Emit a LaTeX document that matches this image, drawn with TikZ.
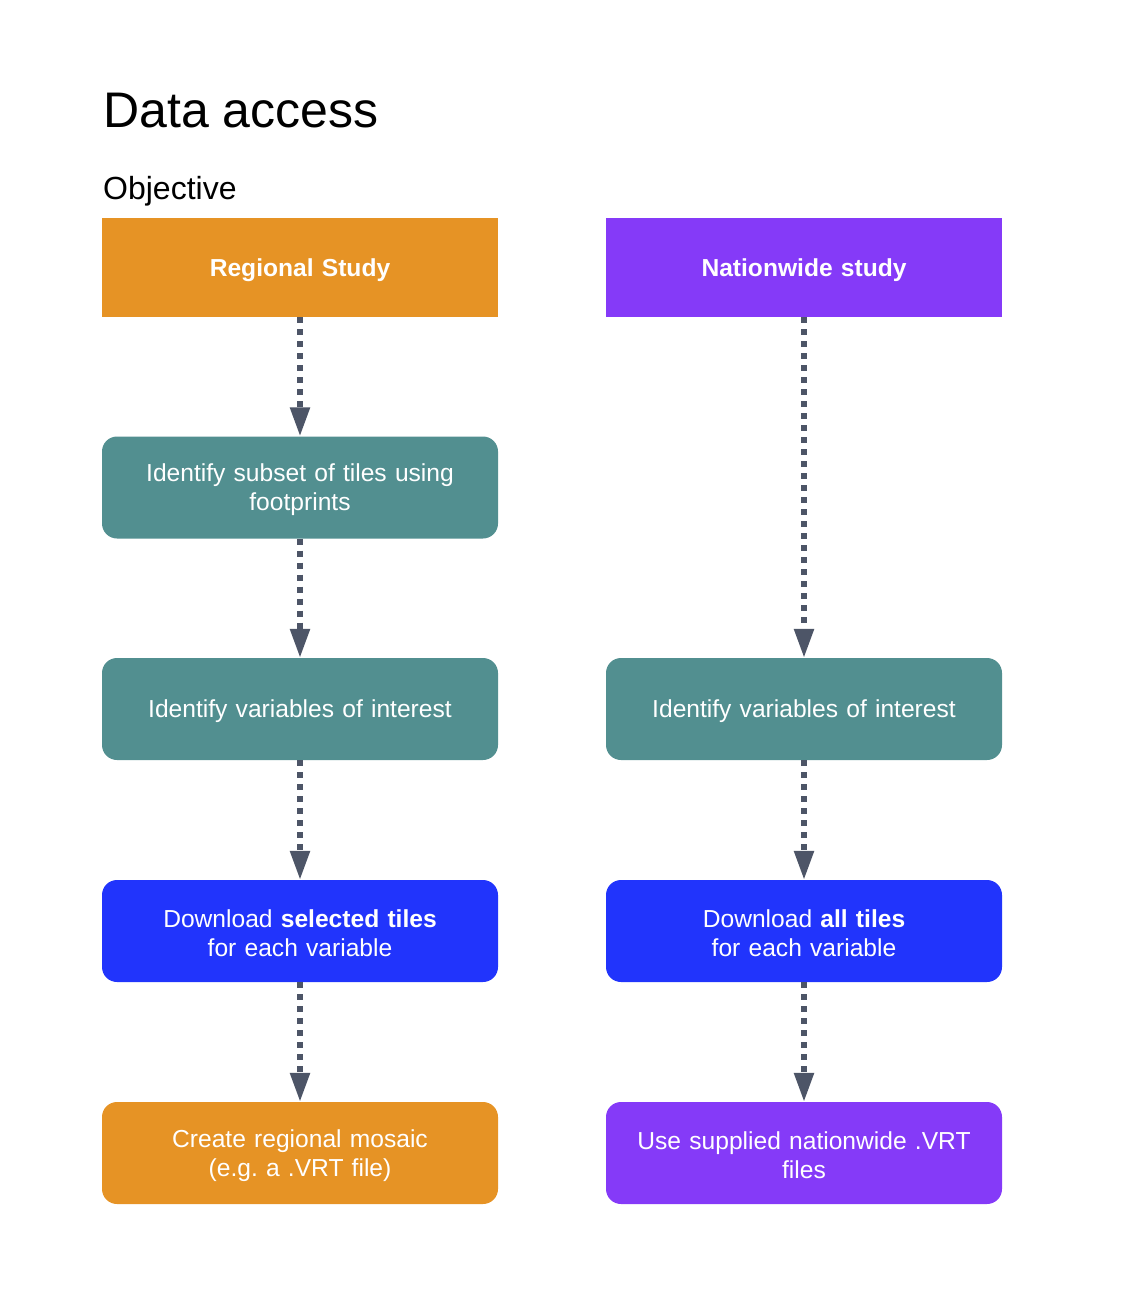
\documentclass[tikz,border=0pt]{standalone}
\usepackage{fontspec}
\setmainfont{Liberation Sans}
\usetikzlibrary{arrows.meta}
\definecolor{corange}{HTML}{E69325}
\definecolor{cpurple}{HTML}{853AF8}
\definecolor{cteal}{HTML}{528F90}
\definecolor{cblue}{HTML}{2134FC}
\definecolor{carrow}{HTML}{4D5567}
\tikzset{
  box/.style={minimum width=396pt, minimum height=102pt, inner sep=0pt},
  rbox/.style={box, rounded corners=15pt},
  lbl/.style={text=white, align=center, inner sep=0pt, text width=390pt,
    font=\fontsize{24.6}{29}\selectfont, yshift=-2.5pt},
  flow/.style={draw=carrow, line width=5.5pt, dash pattern=on 6pt off 6pt,
    -{Triangle[width=19pt,length=29pt]}}
}
\begin{document}
\frenchspacing
\begin{tikzpicture}[x=1pt,y=-1pt]
\useasboundingbox (0,0) rectangle (1125,1300);
\node[anchor=base west, inner sep=0pt, font=\fontsize{50}{60}\selectfont] (title) at (103,128) {Data access};
\node[anchor=base west, inner sep=0pt, font=\fontsize{32}{38}\selectfont] (obj) at (103,200) {Objective};
\node[box, fill=corange, minimum height=99pt] (reg) at (300,267.5) {};
\node[box, fill=cpurple, minimum height=99pt] (nat) at (804,267.5) {};
\node[rbox, fill=cteal] (sub) at (300,487.5) {};
\node[rbox, fill=cteal] (varl) at (300,709) {};
\node[rbox, fill=cteal] (varr) at (804,709) {};
\node[rbox, fill=cblue] (dll) at (300,931) {};
\node[rbox, fill=cblue] (dlr) at (804,931) {};
\node[rbox, fill=corange] (mos) at (300,1153) {};
\node[rbox, fill=cpurple] (vrt) at (804,1153) {};
\node[lbl, font=\bfseries\fontsize{24.6}{29}\selectfont] (regt) at (reg.center) {Regional Study};
\node[lbl, font=\bfseries\fontsize{24.6}{29}\selectfont] (natt) at (nat.center) {Nationwide study};
\node[lbl] (subt) at (sub.center) {Identify subset of tiles using\\footprints};
\node[lbl] (varlt) at (varl.center) {Identify variables of interest};
\node[lbl] (varrt) at (varr.center) {Identify variables of interest};
\node[lbl] (dllt) at (dll.center) {Download \textbf{selected tiles}\\for each variable};
\node[lbl] (dlrt) at (dlr.center) {Download \textbf{all tiles}\\for each variable};
\node[lbl] (most) at (mos.center) {Create regional mosaic\\(e.g. a .VRT file)};
\node[lbl] (vrtt) at (vrt.center) {Use supplied nationwide .VRT\\files};
\draw[flow] (reg) -- (sub);
\draw[flow] (sub) -- (varl);
\draw[flow] (varl) -- (dll);
\draw[flow] (dll) -- (mos);
\draw[flow] (nat) -- (varr);
\draw[flow] (varr) -- (dlr);
\draw[flow] (dlr) -- (vrt);
\end{tikzpicture}
\end{document}
